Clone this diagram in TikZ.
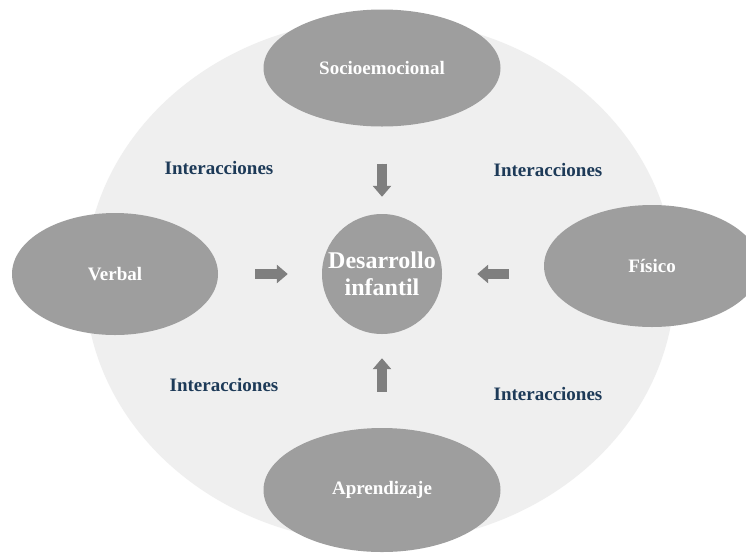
\documentclass[tikz,border=0pt]{standalone}
\usepackage{fontspec}
\setmainfont{Liberation Serif}
\usetikzlibrary{shapes.geometric,arrows.meta}

\definecolor{areagray}{HTML}{EFEFEF}
\definecolor{blobgray}{HTML}{9E9E9E}
\definecolor{arrowgray}{HTML}{7F7F7F}
\definecolor{navytext}{HTML}{1D3A58}

\begin{document}
\begin{tikzpicture}[x=1pt, y=-1pt, >={Triangle[width=18pt,length=11pt]}]
  \tikzstyle{area}=[ellipse, fill=areagray, inner sep=0pt]
  \tikzstyle{blob}=[ellipse, fill=blobgray, text=white, inner sep=0pt,
    minimum width=237pt, minimum height=120pt,
    font=\bfseries\fontsize{19}{21}\selectfont]
  \tikzstyle{inter}=[text=navytext, font=\bfseries\fontsize{19}{21}\selectfont]
  \tikzstyle{link}=[->, draw=arrowgray, fill=arrowgray, line width=10pt]

  \fill[white] (0,0) rectangle (746,552);
  \useasboundingbox (0,0) rectangle (746,552);

  % Background
  \node[area, minimum width=590pt, minimum height=524pt] (bg) at (380,281) {};

  % Outer areas
  \node[blob, minimum height=117pt] (soc) at (382,68) {Socioemocional};
  \node[blob, minimum width=206pt, minimum height=122pt] (verb) at (115,274) {Verbal};
  \node[blob, minimum width=216pt, minimum height=122pt] (fis) at (652,266) {Físico};
  \node[blob, minimum height=124pt] (apr) at (382,490) {Aprendizaje};

  % Center
  \node[circle, fill=blobgray, minimum size=120pt, inner sep=0pt, text=white,
    align=center, font=\bfseries\fontsize{24}{27}\selectfont] (dev) at (382,274)
    {Desarrollo\\infantil};

  % Labels between the areas
  \node[inter] (itl) at (219,168) {Interacciones};
  \node[inter] (itr) at (548,170) {Interacciones};
  \node[inter] (ibl) at (224,385) {Interacciones};
  \node[inter] (ibr) at (548,394) {Interacciones};

  \draw[link, shorten <=37pt, shorten >=17pt] (soc) -- (dev);
  \draw[link, shorten <=37pt, shorten >=34pt] (verb) -- (dev);
  \draw[link, shorten <=35pt, shorten >=35pt] (fis.west |- dev) -- (dev);
  \draw[link, shorten <=36pt, shorten >=24pt] (apr) -- (dev);
\end{tikzpicture}
\end{document}
